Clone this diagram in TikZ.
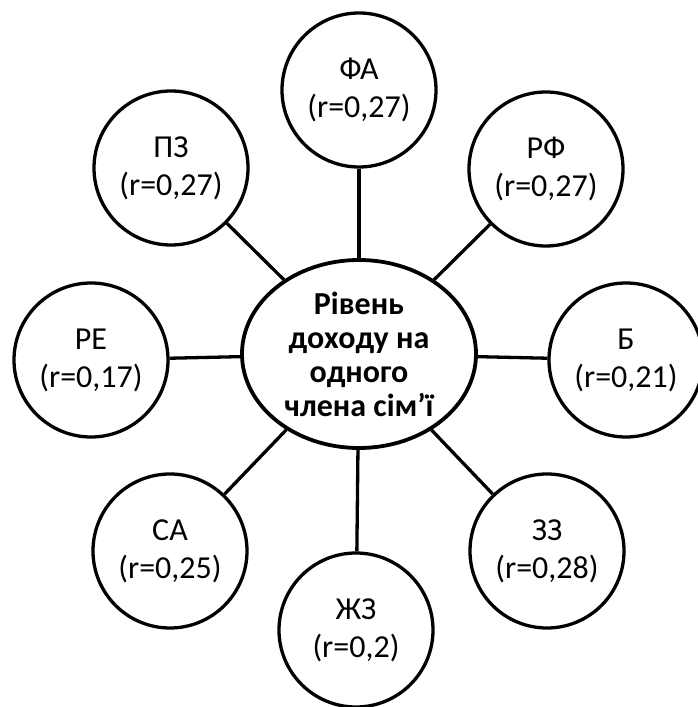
\documentclass[tikz,border=0pt]{standalone}
\usepackage{fontspec}
\setmainfont{Carlito}
\usetikzlibrary{shapes.geometric}

\begin{document}
\begin{tikzpicture}[x=1pt, y=1pt, line width=3.3pt,
	fact/.style={circle, draw, minimum size=154pt, inner sep=0pt, align=center,
		font=\fontsize{32}{38}\selectfont},
	hub/.style={ellipse, draw, line width=3.8pt, minimum width=234pt, minimum height=188pt,
		inner sep=0pt, align=center, font=\bfseries\fontsize{32}{34}\selectfont}]
\useasboundingbox (0,0) rectangle (697,707);
\node[hub] (dohid) at (359,353) {Рівень\\доходу на\\одного\\члена сім’ї};
%
\node[fact] (fa) at (359,617) {ФА\\(r=0,27)};
\node[fact] (rf) at (546,538) {РФ\\(r=0,27)};
\node[fact] (b) at (626,347) {Б\\(r=0,21)};
\node[fact] (zz) at (547,156) {ЗЗ\\(r=0,28)};
\node[fact] (zhz) at (356,77) {ЖЗ\\(r=0,2)};
\node[fact] (sa) at (170,156) {СА\\(r=0,25)};
\node[fact] (re) at (91,347) {РЕ\\(r=0,17)};
\node[fact] (pz) at (171,539) {ПЗ\\(r=0,27)};
%
\foreach \f in {fa,rf,b,zz,zhz,sa,re,pz}
	\draw (dohid) -- (\f);
\end{tikzpicture}
\end{document}
